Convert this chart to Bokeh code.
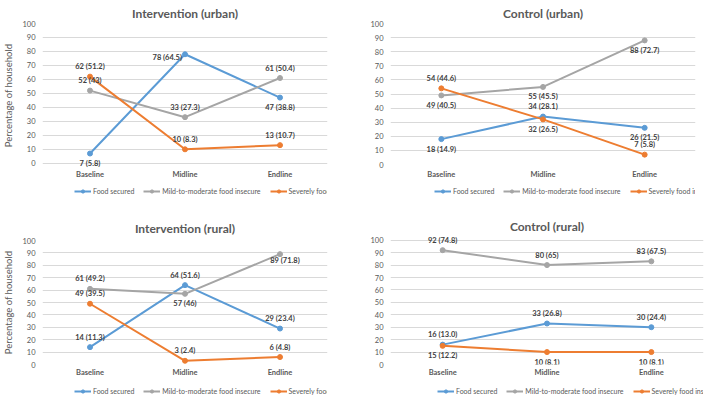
from bokeh.plotting import figure
from bokeh.models import (Range1d, FactorRange, Legend, LegendItem,
                          SingleIntervalTicker, ColumnDataSource)
from bokeh.layouts import row, column
from bokeh.embed import file_html
from bokeh.resources import INLINE
from bokeh.core.properties import value

# ---- data -------------------------------------------------------------
phases = ["Baseline", "Midline", "Endline"]
series_names = ["Food secured", "Mild-to-moderate food insecure", "Severely food insecure"]

# Intervention (urban): household counts and percentages
int_urban_food = [7, 78, 47]
int_urban_food_pct = ["5.8", "64.5", "38.8"]
int_urban_mild = [52, 33, 61]
int_urban_mild_pct = ["43", "27.3", "50.4"]
int_urban_severe = [62, 10, 13]
int_urban_severe_pct = ["51.2", "8.3", "10.7"]

# Control (urban)
ctl_urban_food = [18, 34, 26]
ctl_urban_food_pct = ["14.9", "28.1", "21.5"]
ctl_urban_mild = [49, 55, 88]
ctl_urban_mild_pct = ["40.5", "45.5", "72.7"]
ctl_urban_severe = [54, 32, 7]
ctl_urban_severe_pct = ["44.6", "26.5", "5.8"]

# Intervention (rural)
int_rural_food = [14, 64, 29]
int_rural_food_pct = ["11.3", "51.6", "23.4"]
int_rural_mild = [61, 57, 89]
int_rural_mild_pct = ["49.2", "46", "71.8"]
int_rural_severe = [49, 3, 6]
int_rural_severe_pct = ["39.5", "2.4", "4.8"]

# Control (rural)
ctl_rural_food = [16, 33, 30]
ctl_rural_food_pct = ["13.0", "26.8", "24.4"]
ctl_rural_mild = [92, 80, 83]
ctl_rural_mild_pct = ["74.8", "65", "67.5"]
ctl_rural_severe = [15, 10, 10]
ctl_rural_severe_pct = ["12.2", "8.1", "8.1"]

# ---- styling ----------------------------------------------------------
COLORS = ["#5B9BD5", "#A5A5A5", "#ED7D31"]
FONT = "Lato"
AXIS_TEXT = "#595959"
LABEL_TEXT = "#404040"
GRID = "#D9D9D9"

# data-label placement: (x offset px, y offset px, alignment)
OFFSETS = {
    "above": (0, -10, "center"),
    "below": (0, 10, "center"),
    "left": (-3, 3, "right"),
    "below_right": (5, 6, "center"),
}


def make_chart(title, series, pcts, places, width, height, border, y_span, ylabel,
               title_standoff, cat_standoff):
    left, right, top, bottom = border
    p = figure(
        x_range=FactorRange(*phases), y_range=Range1d(*y_span),
        width=width, height=height, output_backend="svg", toolbar_location=None,
        min_border_left=left, min_border_right=right,
        min_border_top=top, min_border_bottom=bottom,
        title=title,
    )
    p.outline_line_color = None

    p.title.align = "center"
    p.title.offset = -7
    p.title.text_font = FONT
    p.title.text_font_size = "12px"
    p.title.text_font_style = "bold"
    p.title.text_color = AXIS_TEXT
    p.title.standoff = title_standoff

    p.xgrid.grid_line_color = None
    p.ygrid.grid_line_color = GRID

    p.yaxis.ticker = SingleIntervalTicker(interval=10, num_minor_ticks=0)
    for ax in (p.xaxis[0], p.yaxis[0]):
        ax.axis_line_color = None
        ax.major_tick_line_color = None
        ax.minor_tick_line_color = None
        ax.major_tick_out = 0
        ax.major_label_text_font = FONT
        ax.major_label_text_color = AXIS_TEXT
        ax.major_label_text_font_size = "7.5px"
    p.yaxis.major_label_standoff = 7
    p.xaxis.major_label_text_font_style = "bold"
    p.xaxis.major_label_standoff = cat_standoff
    if ylabel:
        p.yaxis.axis_label = ylabel
        p.yaxis.axis_label_text_font = FONT
        p.yaxis.axis_label_text_font_size = "9.5px"
        p.yaxis.axis_label_text_font_style = "normal"
        p.yaxis.axis_label_text_color = AXIS_TEXT
        p.yaxis.axis_label_standoff = 5

    groups = {"center": dict(x=[], y=[], text=[], dx=[], dy=[]),
              "right": dict(x=[], y=[], text=[], dx=[], dy=[])}
    for vals, pct, place, color in zip(series, pcts, places, COLORS):
        p.line(phases, vals, line_color=color, line_width=2)
        p.scatter(phases, vals, size=5, color=color)
        for ph, v, pc, pl in zip(phases, vals, pct, place):
            dx, dy, align = OFFSETS[pl]
            g = groups[align]
            g["x"].append(ph)
            g["y"].append(v)
            g["text"].append(f"{v} ({pc})")
            g["dx"].append(dx)
            g["dy"].append(dy)

    for align, g in groups.items():
        if not g["x"]:
            continue
        p.text(x="x", y="y", text="text", x_offset="dx", y_offset="dy",
               source=ColumnDataSource(g),
               text_align=align, text_baseline="middle",
               text_font=value(FONT), text_font_size="7.5px",
               text_font_style="bold", text_color=LABEL_TEXT)
    return p


def make_legend_strip(series, width, height, loc):
    # thin strip holding the series key; its own copies of the series sit
    # outside the visible y range so only the legend shows
    s = figure(
        x_range=FactorRange(*phases), y_range=Range1d(1000, 1001),
        width=width, height=height, output_backend="svg", toolbar_location=None,
        x_axis_location=None, y_axis_location=None,
        min_border_left=0, min_border_right=0, min_border_top=0, min_border_bottom=0,
    )
    s.outline_line_color = None
    s.xgrid.grid_line_color = None
    s.ygrid.grid_line_color = None
    items = []
    for name, vals, color in zip(series_names, series, COLORS):
        ln = s.line(phases, vals, line_color=color, line_width=2)
        mk = s.scatter(phases, vals, size=5, color=color)
        items.append(LegendItem(label=name, renderers=[ln, mk]))
    legend = Legend(
        items=items, orientation="horizontal", location=loc,
        label_text_font=FONT, label_text_font_size="7px", label_text_color=AXIS_TEXT,
        glyph_width=17, glyph_height=8, label_height=8, label_standoff=2,
        spacing=9, padding=0, margin=0,
        border_line_color=None, background_fill_alpha=0,
    )
    s.add_layout(legend)
    return s


panels = [
    dict(title="Intervention (urban)",
         series=[int_urban_food, int_urban_mild, int_urban_severe],
         pcts=[int_urban_food_pct, int_urban_mild_pct, int_urban_severe_pct],
         places=[["below", "left", "below"], ["above", "above", "above"], ["above", "above", "above"]],
         width=352, border=(34, 25, 21, 12), y_span=(-3, 100), ylabel="Percentage of household",
         title_standoff=6, cat_standoff=2, legend_loc=(32, 3)),
    dict(title="Control (urban)",
         series=[ctl_urban_food, ctl_urban_mild, ctl_urban_severe],
         pcts=[ctl_urban_food_pct, ctl_urban_mild_pct, ctl_urban_severe_pct],
         places=[["below", "above", "below"], ["below", "below", "below"], ["above", "below", "above"]],
         width=353, border=(38, 10, 21, 16), y_span=(0, 100), ylabel=None,
         title_standoff=6, cat_standoff=5, legend_loc=(44, 3)),
    dict(title="Intervention (rural)",
         series=[int_rural_food, int_rural_mild, int_rural_severe],
         pcts=[int_rural_food_pct, int_rural_mild_pct, int_rural_severe_pct],
         places=[["above", "above", "above"], ["above", "below", "below_right"], ["above", "above", "above"]],
         width=352, border=(33, 25, 42, 13), y_span=(0, 100), ylabel="Percentage of household",
         title_standoff=10, cat_standoff=3, legend_loc=(32, 1)),
    dict(title="Control (rural)",
         series=[ctl_rural_food, ctl_rural_mild, ctl_rural_severe],
         pcts=[ctl_rural_food_pct, ctl_rural_mild_pct, ctl_rural_severe_pct],
         places=[["above", "above", "above"], ["above", "above", "above"], ["below", "below", "below"]],
         width=353, border=(38, 2, 38, 13), y_span=(0, 103), ylabel=None,
         title_standoff=6, cat_standoff=3, legend_loc=(47, 1)),
]

CHART_H = 181
STRIP_H = 17

cells = []
for cfg in panels:
    chart = make_chart(cfg["title"], cfg["series"], cfg["pcts"], cfg["places"],
                       cfg["width"], CHART_H, cfg["border"], cfg["y_span"], cfg["ylabel"],
                       cfg["title_standoff"], cfg["cat_standoff"])
    strip = make_legend_strip(cfg["series"], cfg["width"], STRIP_H, cfg["legend_loc"])
    cells.append(column(chart, strip))

layout = column(row(cells[0], cells[1]), row(cells[2], cells[3]))
open("out.html", "w").write(file_html(layout, INLINE))
